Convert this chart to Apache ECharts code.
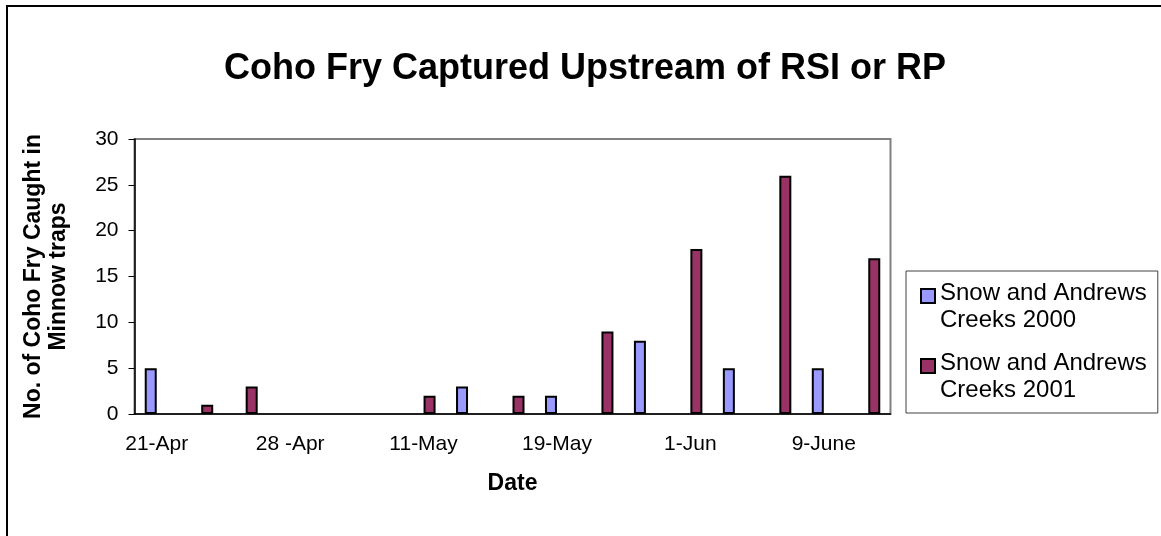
<!DOCTYPE html>
<html>
<head>
<meta charset="utf-8">
<script src="https://cdn.jsdelivr.net/npm/echarts@6/dist/echarts.min.js"></script>
<style>
    html, body {margin: 0; padding: 0; background: #fff;}
    #chart {width: 1161px; height: 536px;}
</style>
</head>
<body>
<div id="chart"></div>
<script>
var categories = ['21-Apr', '', '', '28 -Apr', '', '', '11-May', '', '', '19-May', '', '', '1-Jun', '', '', '9-June', ''];
var creeks2000 = [5, null, null, null, null, null, null, 3, null, 2, null, 8, null, 5, null, 5, null];
var creeks2001 = [null, 1, 3, null, null, null, 2, null, 2, null, 9, null, 18, null, 26, null, 17];
var yTicks = [0, 30, 5];

var font = 'Liberation Sans, Arial, sans-serif';
var chart = echarts.init(document.getElementById('chart'));
var barBorder = {borderColor: '#000', borderWidth: 2};

chart.setOption({
    animation: false,
    title: {
        text: 'Coho Fry Captured Upstream of RSI or RP',
        left: 580,
        textAlign: 'center',
        top: 46,
        textStyle: {fontFamily: font, fontSize: 36, fontWeight: 'bold', color: '#000'}
    },
    graphic: [{
        type: 'rect',
        shape: {x: 7, y: 6, width: 1200, height: 600},
        style: {fill: 'none', stroke: '#000', lineWidth: 2},
        silent: true
    }],
    legend: {
        orient: 'vertical',
        left: 906,
        top: 271,
        padding: [8, 11, 8, 14],
        itemGap: 14,
        itemWidth: 14,
        itemHeight: 54,
        // square sits beside the first line of each two-line name
        icon: 'path://M0,0L0,0 M0,9H14V23H0Z M0,54L0,54',
        borderColor: '#404040',
        borderWidth: 1,
        backgroundColor: '#fff',
        textStyle: {fontFamily: font, fontSize: 24, lineHeight: 27, color: '#000'},
        data: ['Snow and Andrews\nCreeks 2000', 'Snow and Andrews\nCreeks 2001']
    },
    grid: {
        left: 134.5,
        right: 270.5,
        top: 139,
        bottom: 122,
        show: true,
        borderColor: '#808080',
        borderWidth: 2
    },
    xAxis: {
        type: 'category',
        data: categories,
        name: 'Date',
        nameLocation: 'middle',
        nameGap: 58,
        nameTextStyle: {fontFamily: font, fontSize: 23, fontWeight: 'bold', color: '#000'},
        axisLine: {lineStyle: {color: '#000', width: 1.5}},
        axisTick: {interval: 0, length: 6, lineStyle: {color: '#000', width: 1}},
        axisLabel: {interval: 2, margin: 20, fontFamily: font, fontSize: 21, color: '#000'},
        splitLine: {show: false}
    },
    yAxis: {
        type: 'value',
        min: yTicks[0],
        max: yTicks[1],
        interval: yTicks[2],
        name: 'No. of Coho Fry Caught in\nMinnow traps',
        nameLocation: 'middle',
        nameGap: 63,
        nameRotate: 90,
        nameTextStyle: {fontFamily: font, fontSize: 23, fontWeight: 'bold', color: '#000', lineHeight: 25},
        axisLine: {show: true, lineStyle: {color: '#000', width: 1.5}},
        axisTick: {show: true, length: 6, lineStyle: {color: '#000', width: 1}},
        axisLabel: {margin: 16, fontFamily: font, fontSize: 21, color: '#000'},
        splitLine: {show: false}
    },
    series: [{
        name: 'Snow and Andrews\nCreeks 2000',
        type: 'bar',
        data: creeks2000,
        barWidth: 12,
        barGap: '0%',
        itemStyle: Object.assign({color: '#9999FF'}, barBorder)
    }, {
        name: 'Snow and Andrews\nCreeks 2001',
        type: 'bar',
        data: creeks2001,
        barWidth: 12,
        barGap: '0%',
        itemStyle: Object.assign({color: '#993366'}, barBorder)
    }]
});
</script>
</body>
</html>
